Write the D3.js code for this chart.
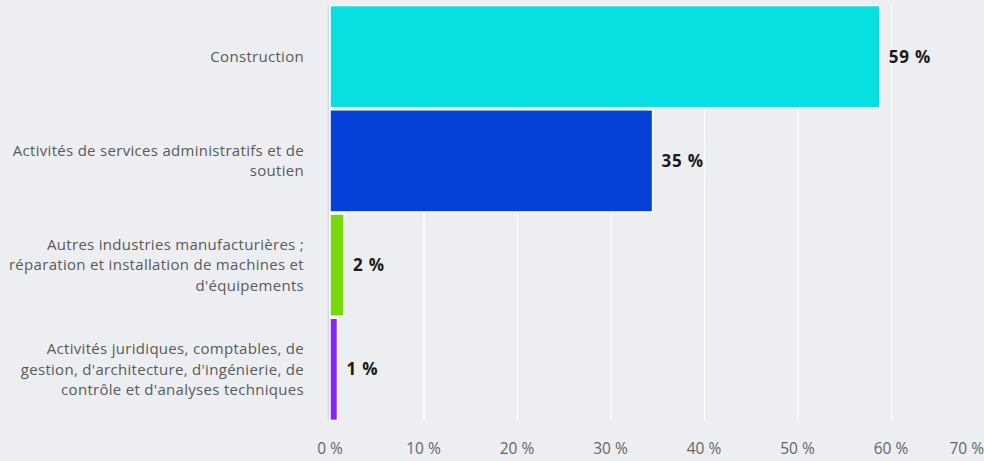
<!DOCTYPE html>
<html><head><meta charset="utf-8">
<script src="https://cdn.jsdelivr.net/npm/d3@7"></script>
<style>
html,body{margin:0;padding:0;background:#eceef1;}
svg{display:block;}
</style></head>
<body>
<svg id="chart" width="984" height="461"></svg>
<script>
const categories = [
  ["Construction"],
  ["Activités de services administratifs et de", "soutien"],
  ["Autres industries manufacturières ;", "réparation et installation de machines et", "d'équipements"],
  ["Activités juridiques, comptables, de", "gestion, d'architecture, d'ingénierie, de", "contrôle et d'analyses techniques"]
];
const values = [58.8, 34.5, 1.5, 0.8];
const colors = ["#07dfe0", "#0540d9", "#78d90a", "#8c22fb"];
const ticks = [0, 10, 20, 30, 40, 50, 60, 70];

(function () {
const svg = d3.select("#chart");
const W = 984, H = 461;
const mLeft = 330, mTop = 5, mBottom = 421;
const font = "'Open Sans', 'Noto Sans', sans-serif";

svg.append("rect").attr("width", W).attr("height", H).attr("fill", "#eceef1");

const x = d3.scaleLinear().domain([0, 70]).range([mLeft, mLeft + 654.5]);
const y = d3.scaleBand().domain(d3.range(categories.length)).range([mTop, mBottom]).paddingInner(0.02).paddingOuter(0.005);

// grid lines
svg.append("g").selectAll("line").data(ticks.filter(t => t > 0)).join("line")
  .attr("x1", d => x(d) + 0.5).attr("x2", d => x(d) + 0.5)
  .attr("y1", mTop).attr("y2", mBottom)
  .attr("stroke", "#ffffff").attr("stroke-width", 1.2);

// axis line
svg.append("line").attr("x1", mLeft - 1.5).attr("x2", mLeft - 1.5).attr("y1", mTop).attr("y2", mBottom)
  .attr("stroke", "#d3d8ea").attr("stroke-width", 1.5);

// bars
svg.append("g").selectAll("rect").data(values).join("rect")
  .attr("x", x(0))
  .attr("y", (d, i) => y(i))
  .attr("width", d => x(d) - x(0))
  .attr("height", y.bandwidth())
  .attr("fill", (d, i) => colors[i])
  .attr("stroke", "#ffffff").attr("stroke-width", 1.5);

// value labels
svg.append("g").selectAll("text").data(values).join("text")
  .attr("x", d => x(d) + 9)
  .attr("y", (d, i) => y(i) + y.bandwidth() / 2)
  .attr("dy", "0.35em")
  .attr("font-family", font).attr("font-weight", "bold").attr("font-size", 17)
  .attr("letter-spacing", 0.8)
  .attr("fill", "#1a1a1a")
  .text(d => Math.round(d) + " %");

// category labels
const cat = svg.append("g");
categories.forEach((lines, i) => {
  const cy = y(i) + y.bandwidth() / 2;
  const lh = 20.5;
  const t = cat.append("text")
    .attr("text-anchor", "end")
    .attr("font-family", font).attr("font-size", 15)
    .attr("letter-spacing", 0.3)
    .attr("fill", "#5a5a5a");
  lines.forEach((ln, j) => {
    t.append("tspan").attr("x", 304)
      .attr("y", cy + (j - (lines.length - 1) / 2) * lh)
      .attr("dy", "0.35em")
      .text(ln);
  });
});

// x tick labels
svg.append("g").selectAll("text").data(ticks).join("text")
  .attr("x", d => d === 70 ? W : x(d))
  .attr("y", 449)
  .attr("dy", "0.35em")
  .attr("text-anchor", d => d === 70 ? "end" : "middle")
  .attr("font-family", font).attr("font-size", 15.5)
  .attr("fill", "#666666")
  .text(d => d + " %");
})();
</script>
</body></html>
